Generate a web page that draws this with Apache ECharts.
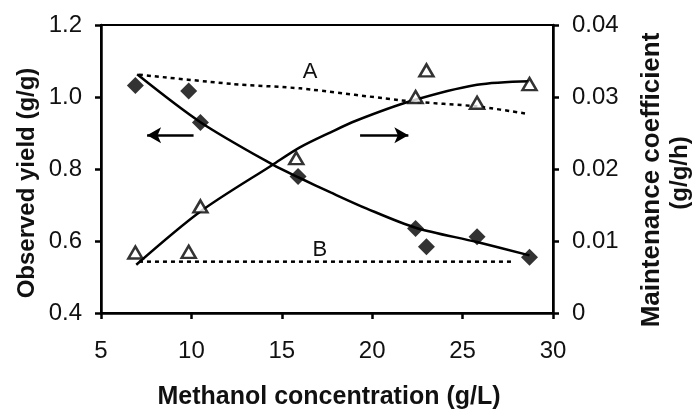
<!DOCTYPE html>
<html>
<head>
<meta charset="utf-8">
<script src="https://cdn.jsdelivr.net/npm/echarts@6/dist/echarts.min.js"></script>
<style>html,body{margin:0;padding:0;background:#fff;}#c{width:696px;height:411px;}</style>
</head>
<body>
<div id="c"></div>
<script>
// Observed yield (g/g), left axis — filled diamonds
const yieldPts = [[6.9,1.032],[9.85,1.017],[10.5,0.929],[15.9,0.779],[22.4,0.635],[23.0,0.584],[25.8,0.612],[28.7,0.555]];
// Maintenance coefficient (g/g/h), right axis — open triangles
const maintPts = [[6.9,0.0084],[9.85,0.0085],[10.5,0.0148],[15.8,0.0215],[23.0,0.0337],[22.4,0.030],[25.8,0.0292],[28.7,0.0318]];
// Fitted curves
const yieldFit = [[7.0,1.063],[10.5,0.93],[14.5,0.812],[16.0,0.775],[17.7,0.735],[19.7,0.690],[22.4,0.637],[25.8,0.597],[28.7,0.56]];
const maintFit = [[6.95,0.0067],[10.5,0.0141],[14.5,0.0206],[16.0,0.023],[17.7,0.0251],[19.1,0.0267],[22.1,0.0294],[25.8,0.0317],[28.7,0.0322]];
// Dashed model lines A and B
const lineA = [[7.1,0.0331],[12.3,0.0318],[16.0,0.0312],[22.1,0.0294],[25.8,0.0287],[28.5,0.0277]];
const lineB = [[7.1,0.00713],[27.8,0.00713]];
// Annotation positions (data coords, left axis)
const labelA = [16.56, 1.069];
const labelB = [17.11, 0.575];
const arrowLeft = [[10.12,0.894],[7.55,0.894]];
const arrowRight = [[19.33,0.894],[22.0,0.894]];

const xTicks = {min:5,max:30,interval:5};
const yLeft = {min:0.4,max:1.2,interval:0.2};
const yRight = {min:0,max:0.04,interval:0.01};

const FONT = '"Liberation Sans", Arial, sans-serif';
const axisLine = {show:true,lineStyle:{color:'#000',width:2.5}};
const ax = {axisTick:{show:true,inside:false,length:6,lineStyle:{color:'#000',width:2.5}},splitLine:{show:false}};

const chart = echarts.init(document.getElementById('c'), null, {renderer:'canvas'});
chart.setOption({
  animation:false,
  backgroundColor:'#fff',
  grid:{left:101,right:143,top:25,bottom:98,show:true,borderColor:'#000',borderWidth:2,backgroundColor:'transparent'},
  xAxis:{type:'value',min:xTicks.min,max:xTicks.max,interval:xTicks.interval,axisLine:axisLine,...ax,
    axisLabel:{color:'#111',fontFamily:FONT,fontSize:24,margin:26}},
  yAxis:[
    {type:'value',min:yLeft.min,max:yLeft.max,interval:yLeft.interval,position:'left',axisLine:axisLine,...ax,
      axisLabel:{color:'#111',fontFamily:FONT,fontSize:24,margin:19,formatter:v=>v.toFixed(1)}},
    {type:'value',min:yRight.min,max:yRight.max,interval:yRight.interval,position:'right',axisLine:axisLine,...ax,
      axisLabel:{color:'#111',fontFamily:FONT,fontSize:24,margin:19,formatter:v=>v===0?'0':v.toFixed(2)}}
  ],
  series:[
    {type:'line',yAxisIndex:0,data:yieldFit,smooth:0.3,symbol:'none',lineStyle:{color:'#000',width:2.5},z:3,
      markLine:{silent:true,symbol:['none','arrow'],symbolSize:[12,14],lineStyle:{color:'#000',width:2.5,type:'solid'},label:{show:false},
        data:[[{coord:arrowLeft[0]},{coord:arrowLeft[1]}],[{coord:arrowRight[0]},{coord:arrowRight[1]}]]},
      markPoint:{silent:true,symbol:'circle',symbolSize:0,
        label:{show:true,color:'#111',fontFamily:FONT,fontSize:22,position:'inside'},
        data:[{coord:labelA,value:'A'},{coord:labelB,value:'B'}]}},
    {type:'line',yAxisIndex:1,data:maintFit,smooth:0.3,symbol:'none',lineStyle:{color:'#000',width:2.5},z:3},
    {type:'line',yAxisIndex:1,data:lineA,smooth:0.2,symbol:'none',lineStyle:{color:'#000',width:2.5,type:[4,4]},z:2},
    {type:'line',yAxisIndex:1,data:lineB,symbol:'none',lineStyle:{color:'#000',width:2.5,type:[4,4]},z:2},
    {type:'scatter',yAxisIndex:0,data:yieldPts,symbol:'diamond',symbolSize:[17,17],itemStyle:{color:'#000'},z:5},
    {type:'scatter',yAxisIndex:1,data:maintPts,symbol:'triangle',symbolSize:[14,12],itemStyle:{color:'#fff',borderColor:'#000',borderWidth:2.5},z:5}
  ],
  graphic:[
    {type:'text',x:27,y:183,rotation:Math.PI/2,style:{text:'Observed yield (g/g)',fill:'#111',font:'bold 24px '+FONT,align:'center',verticalAlign:'middle'}},
    {type:'text',x:652,y:180,rotation:Math.PI/2,style:{text:'Maintenance coefficient',fill:'#111',font:'bold 26px '+FONT,align:'center',verticalAlign:'middle'}},
    {type:'text',x:680,y:173,rotation:Math.PI/2,style:{text:'(g/g/h)',fill:'#111',font:'bold 24px '+FONT,align:'center',verticalAlign:'middle'}},
    {type:'text',x:329,y:397,style:{text:'Methanol concentration (g/L)',fill:'#111',font:'bold 25px '+FONT,align:'center',verticalAlign:'middle'}}
  ]
});
</script>
</body>
</html>
